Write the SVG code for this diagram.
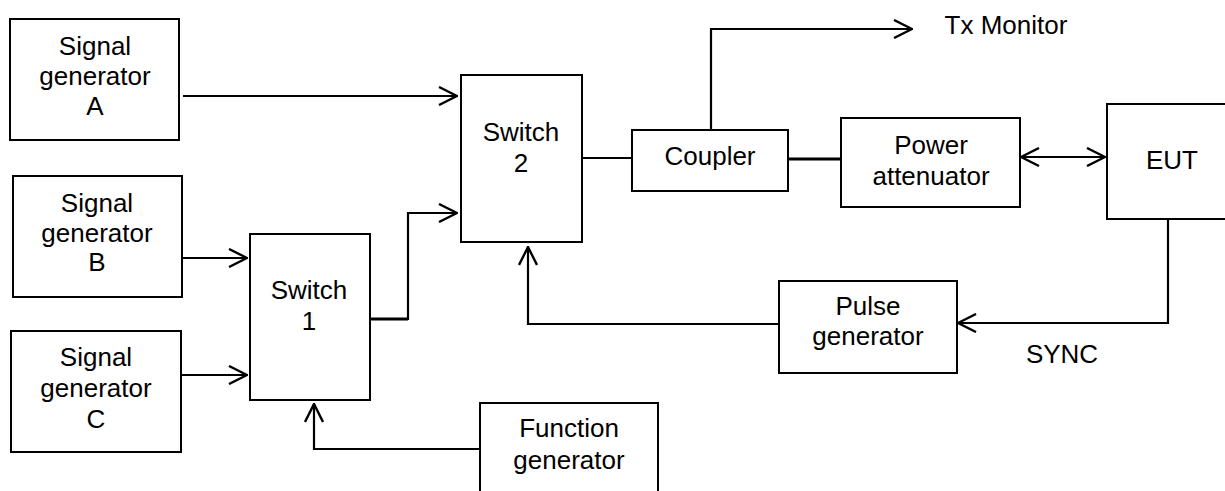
<svg xmlns="http://www.w3.org/2000/svg" width="1225" height="491" viewBox="0 0 1225 491">
<style>
.box{fill:#fff;stroke:#000;stroke-width:2}
.t{font-family:"Liberation Sans",Arial,sans-serif;font-size:26px;fill:#000;text-anchor:middle}
.c{fill:none;stroke:#000;stroke-width:2.2}
.thick{stroke-width:3.2}
</style>
<defs>
<marker id="ah" viewBox="0 0 20 20" refX="19" refY="10" markerWidth="20" markerHeight="20" markerUnits="userSpaceOnUse" orient="auto-start-reverse">
<path d="M1,1 L19,10 L1,19" fill="none" stroke="#000" stroke-width="2.4"/>
</marker>
</defs>
<rect width="1225" height="491" fill="#fff"/>
<g id="connectors">
<path class="c" d="M183,96 H457" marker-end="url(#ah)"/>
<path class="c" d="M182,258 H247" marker-end="url(#ah)"/>
<path class="c" d="M181,375 H247" marker-end="url(#ah)"/>
<path class="c thick" d="M370,319 H408"/>
<path class="c" d="M408,320 V213 H457" marker-end="url(#ah)"/>
<path class="c" d="M658,449 H314 V404" marker-end="url(#ah)"/>
<path class="c" d="M582,158 H632"/>
<path class="c thick" d="M788,159 H841"/>
<path class="c" d="M711,130 V29 H912" marker-end="url(#ah)"/>
<path class="c" d="M1021,157 H1105" marker-start="url(#ah)" marker-end="url(#ah)"/>
<path class="c" d="M1168,219 V323 H958" marker-end="url(#ah)"/>
<path class="c" d="M779,324 H528 V247" marker-end="url(#ah)"/>
</g>
<g id="sigA"><rect class="box" x="10" y="19" width="169" height="121"/><text class="t" x="95" y="55">Signal</text><text class="t" x="95" y="85">generator</text><text class="t" x="95" y="115">A</text></g>
<g id="sigB"><rect class="box" x="13" y="176" width="169" height="121"/><text class="t" x="97" y="212">Signal</text><text class="t" x="97" y="242">generator</text><text class="t" x="97" y="271">B</text></g>
<g id="sigC"><rect class="box" x="11" y="331" width="170" height="121"/><text class="t" x="96" y="366">Signal</text><text class="t" x="96" y="397">generator</text><text class="t" x="96" y="428">C</text></g>
<g id="switch1"><rect class="box" x="250" y="234" width="120" height="166"/><text class="t" x="309" y="299">Switch</text><text class="t" x="309" y="330">1</text></g>
<g id="switch2"><rect class="box" x="461" y="75" width="121" height="167"/><text class="t" x="521" y="141">Switch</text><text class="t" x="521" y="172">2</text></g>
<g id="coupler"><rect class="box" x="632" y="130" width="156" height="61"/><text class="t" x="710" y="165">Coupler</text></g>
<g id="attenuator"><rect class="box" x="841" y="118" width="179" height="89"/><text class="t" x="931" y="154">Power</text><text class="t" x="931" y="185">attenuator</text></g>
<g id="eut"><rect class="box" x="1107" y="104" width="130" height="115"/><text class="t" x="1172" y="169">EUT</text></g>
<g id="pulse"><rect class="box" x="779" y="281" width="178" height="92"/><text class="t" x="868" y="315">Pulse</text><text class="t" x="868" y="345">generator</text></g>
<g id="function"><rect class="box" x="480" y="403" width="178" height="100"/><text class="t" x="569" y="437">Function</text><text class="t" x="569" y="469">generator</text></g>
<g id="labels"><text class="t" x="1006" y="34">Tx Monitor</text><text class="t" x="1062" y="363">SYNC</text></g>
</svg>
